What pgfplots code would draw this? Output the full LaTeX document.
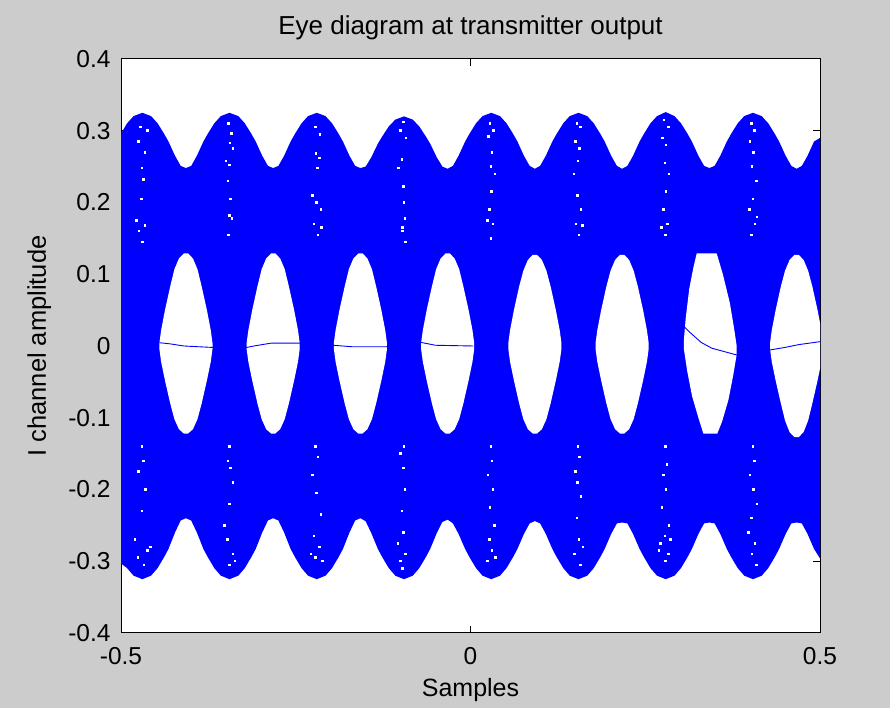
\documentclass[border=0pt]{standalone}
\usepackage{fontspec}
\setmainfont{Liberation Sans}
\usepackage{pgfplots}
\pgfplotsset{compat=1.18}
\definecolor{figgray}{RGB}{204,204,204}
\definecolor{mblue}{RGB}{0,0,255}
\begin{document}
\begin{tikzpicture}[x=1bp,y=1bp]
\fill[figgray] (0,0) rectangle (890,708);
\begin{axis}[
  at={(121bp,75bp)}, anchor=south west,
  scale only axis, width=699bp, height=574bp,
  xmin=-0.5, xmax=0.5, ymin=-0.4, ymax=0.4,
  axis background/.style={fill=white},
  xtick={-0.5,0,0.5}, xticklabels={-0.5,0,0.5},
  ytick={-0.4,-0.3,-0.2,-0.1,0,0.1,0.2,0.3,0.4},
  yticklabels={-0.4,-0.3,-0.2,-0.1,0,0.1,0.2,0.3,0.4},
  tick align=inside, major tick length=7bp,
  tick style={black, line width=1bp},
  axis line style={black, line width=1bp},
  ticklabel style={font=\fontsize{24.5bp}{29bp}\selectfont, text=black},
  xticklabel style={anchor=north, inner sep=0pt, yshift=-13.7bp},
  yticklabel style={anchor=east, inner sep=0pt, xshift=-10.3bp},
  title={Eye diagram at transmitter output},
  title style={font=\fontsize{26bp}{31bp}\selectfont, at={(axis description cs:0.5,1.0319)}, anchor=base},
  xlabel={Samples},
  xlabel style={font=\fontsize{25bp}{30bp}\selectfont, at={(axis description cs:0.5,-0.1110)}, anchor=base},
  ylabel={I channel amplitude},
  ylabel style={font=\fontsize{25.5bp}{30bp}\selectfont, at={(axis description cs:-0.1073,0.5)}, anchor=base, rotate=0},
]
% blue eye band (upper envelope left->right, lower envelope right->left)
\addplot[draw=none, fill=mblue] coordinates {
(-0.5,0.296)
(-0.4913,0.3104) (-0.482,0.3204) (-0.4695,0.325) (-0.457,0.3204) (-0.4477,0.3104) (-0.4383,0.2957) (-0.4321,0.285) (-0.4227,0.265) (-0.4146,0.251) (-0.4071,0.248)
(-0.3996,0.251) (-0.3915,0.265) (-0.3821,0.285) (-0.3759,0.2957) (-0.3665,0.3104) (-0.3572,0.3204) (-0.3447,0.325) (-0.3322,0.3204) (-0.3229,0.3104) (-0.3135,0.2957) (-0.3073,0.285) (-0.2979,0.265) (-0.2898,0.251) (-0.2823,0.248)
(-0.2748,0.251) (-0.2667,0.265) (-0.2573,0.285) (-0.2511,0.2957) (-0.2417,0.3104) (-0.2324,0.3204) (-0.2199,0.325) (-0.2074,0.3204) (-0.1981,0.3104) (-0.1887,0.2957) (-0.1825,0.285) (-0.1731,0.265) (-0.165,0.251) (-0.1575,0.248)
(-0.15,0.250) (-0.1419,0.263) (-0.1325,0.282) (-0.1263,0.292) (-0.1169,0.306) (-0.1076,0.3155) (-0.0951,0.320) (-0.0826,0.3155) (-0.0733,0.306) (-0.0639,0.292) (-0.0577,0.282) (-0.0483,0.263) (-0.0402,0.250) (-0.0327,0.247)
(-0.0252,0.251) (-0.0171,0.265) (-0.0077,0.285) (-0.0015,0.2957) (0.0079,0.3104) (0.0172,0.3204) (0.0297,0.325) (0.0422,0.3204) (0.0515,0.3104) (0.0609,0.2957) (0.0671,0.285) (0.0765,0.265) (0.0846,0.251) (0.0921,0.247)
(0.0996,0.251) (0.1077,0.265) (0.1171,0.285) (0.1233,0.2957) (0.1327,0.3104) (0.142,0.3204) (0.1545,0.325) (0.167,0.3204) (0.1763,0.3104) (0.1857,0.2957) (0.1919,0.285) (0.2013,0.265) (0.2094,0.251) (0.2169,0.247)
(0.2244,0.251) (0.2325,0.265) (0.2419,0.285) (0.2481,0.2957) (0.2575,0.3104) (0.2668,0.3204) (0.2793,0.326) (0.2918,0.3204) (0.3011,0.3104) (0.3105,0.2957) (0.3167,0.285) (0.3261,0.265) (0.3342,0.251) (0.3417,0.248)
(0.3492,0.251) (0.3573,0.265) (0.3667,0.285) (0.3729,0.2957) (0.3823,0.3104) (0.3916,0.3204) (0.4041,0.325) (0.4166,0.3204) (0.4259,0.3104) (0.4353,0.2957) (0.4415,0.285) (0.4509,0.265) (0.459,0.251) (0.4665,0.247)
(0.474,0.251) (0.4821,0.265) (0.4915,0.285) (0.5,0.29)
(0.5,-0.296) (0.4915,-0.2829) (0.4821,-0.2618) (0.474,-0.2472) (0.4665,-0.246)
(0.459,-0.2472) (0.4509,-0.2618) (0.4415,-0.2829) (0.4353,-0.2942) (0.4259,-0.3096) (0.4166,-0.3201) (0.4041,-0.325) (0.3916,-0.3201) (0.3823,-0.3096) (0.3729,-0.2942) (0.3667,-0.2829) (0.3573,-0.2618) (0.3492,-0.2472) (0.3417,-0.246)
(0.3342,-0.2472) (0.3261,-0.2618) (0.3167,-0.2829) (0.3105,-0.2942) (0.3011,-0.3096) (0.2918,-0.3201) (0.2793,-0.325) (0.2668,-0.3201) (0.2575,-0.3096) (0.2481,-0.2942) (0.2419,-0.2829) (0.2325,-0.2618) (0.2244,-0.2472) (0.2169,-0.246)
(0.2094,-0.2472) (0.2013,-0.2618) (0.1919,-0.2829) (0.1857,-0.2942) (0.1763,-0.3096) (0.167,-0.3201) (0.1545,-0.325) (0.142,-0.3201) (0.1327,-0.3096) (0.1233,-0.2942) (0.1171,-0.2829) (0.1077,-0.2618) (0.0996,-0.2472) (0.0921,-0.244)
(0.0846,-0.2472) (0.0765,-0.2618) (0.0671,-0.2829) (0.0609,-0.2942) (0.0515,-0.3096) (0.0422,-0.3201) (0.0297,-0.325) (0.0172,-0.3201) (0.0079,-0.3096) (-0.0015,-0.2942) (-0.0077,-0.2829) (-0.0171,-0.2618) (-0.0252,-0.2472) (-0.0327,-0.242)
(-0.0402,-0.2452) (-0.0483,-0.2608) (-0.0577,-0.2829) (-0.0639,-0.2942) (-0.0733,-0.3096) (-0.0826,-0.3201) (-0.0951,-0.325) (-0.1076,-0.3201) (-0.1169,-0.3096) (-0.1263,-0.2942) (-0.1325,-0.2829) (-0.1419,-0.2608) (-0.15,-0.2442) (-0.1575,-0.240)
(-0.165,-0.2432) (-0.1731,-0.2598) (-0.1825,-0.2829) (-0.1887,-0.2942) (-0.1981,-0.3096) (-0.2074,-0.3201) (-0.2199,-0.325) (-0.2324,-0.3201) (-0.2417,-0.3096) (-0.2511,-0.2942) (-0.2573,-0.2829) (-0.2667,-0.2598) (-0.2748,-0.2432) (-0.2823,-0.240)
(-0.2898,-0.2432) (-0.2979,-0.2598) (-0.3073,-0.2829) (-0.3135,-0.2942) (-0.3229,-0.3096) (-0.3322,-0.3201) (-0.3447,-0.325) (-0.3572,-0.3201) (-0.3665,-0.3096) (-0.3759,-0.2942) (-0.3821,-0.2829) (-0.3915,-0.2598) (-0.3996,-0.2432) (-0.4071,-0.240)
(-0.4146,-0.2432) (-0.4227,-0.2598) (-0.4321,-0.2829) (-0.4383,-0.2942) (-0.4477,-0.3096) (-0.457,-0.3201) (-0.4695,-0.325) (-0.482,-0.3201) (-0.4913,-0.3096) (-0.5,-0.303)
} -- cycle;
% eye openings
\addplot[draw=none, fill=white] coordinates {
(-0.4101,0.129) (-0.4041,0.129) (-0.3971,0.122) (-0.3906,0.107) (-0.3846,0.083) (-0.3771,0.050) (-0.3716,0.022) (-0.3691,0.004) (-0.3691,-0.004) (-0.3716,-0.022) (-0.3771,-0.048) (-0.3846,-0.080) (-0.3906,-0.102) (-0.3971,-0.116) (-0.4041,-0.122)
(-0.4101,-0.122) (-0.4171,-0.116) (-0.4236,-0.102) (-0.4296,-0.080) (-0.4371,-0.048) (-0.4426,-0.022) (-0.4451,-0.004) (-0.4451,0.004) (-0.4426,0.022) (-0.4371,0.050) (-0.4296,0.083) (-0.4236,0.107) (-0.4171,0.122)
} -- cycle;
\addplot[draw=none, fill=white] coordinates {
(-0.2853,0.129) (-0.2793,0.129) (-0.2723,0.122) (-0.2658,0.107) (-0.2598,0.083) (-0.2523,0.050) (-0.2468,0.022) (-0.2443,0.004) (-0.2443,-0.004) (-0.2468,-0.022) (-0.2523,-0.048) (-0.2598,-0.080) (-0.2658,-0.102) (-0.2723,-0.116) (-0.2793,-0.122)
(-0.2853,-0.122) (-0.2923,-0.116) (-0.2988,-0.102) (-0.3048,-0.080) (-0.3123,-0.048) (-0.3178,-0.022) (-0.3203,-0.004) (-0.3203,0.004) (-0.3178,0.022) (-0.3123,0.050) (-0.3048,0.083) (-0.2988,0.107) (-0.2923,0.122)
} -- cycle;
\addplot[draw=none, fill=white] coordinates {
(-0.1605,0.129) (-0.1545,0.129) (-0.1475,0.122) (-0.1410,0.107) (-0.1350,0.083) (-0.1275,0.050) (-0.1220,0.022) (-0.1195,0.004) (-0.1195,-0.004) (-0.1220,-0.022) (-0.1275,-0.048) (-0.1350,-0.080) (-0.1410,-0.102) (-0.1475,-0.116) (-0.1545,-0.122)
(-0.1605,-0.122) (-0.1675,-0.116) (-0.1740,-0.102) (-0.1800,-0.080) (-0.1875,-0.048) (-0.1930,-0.022) (-0.1955,-0.004) (-0.1955,0.004) (-0.1930,0.022) (-0.1875,0.050) (-0.1800,0.083) (-0.1740,0.107) (-0.1675,0.122)
} -- cycle;
\addplot[draw=none, fill=white] coordinates {
(-0.0357,0.129) (-0.0297,0.129) (-0.0227,0.122) (-0.0162,0.107) (-0.0102,0.083) (-0.0027,0.050) (0.0028,0.022) (0.0053,0.004) (0.0053,-0.004) (0.0028,-0.022) (-0.0027,-0.048) (-0.0102,-0.080) (-0.0162,-0.102) (-0.0227,-0.116) (-0.0297,-0.122)
(-0.0357,-0.122) (-0.0427,-0.116) (-0.0492,-0.102) (-0.0552,-0.080) (-0.0627,-0.048) (-0.0682,-0.022) (-0.0707,-0.004) (-0.0707,0.004) (-0.0682,0.022) (-0.0627,0.050) (-0.0552,0.083) (-0.0492,0.107) (-0.0427,0.122)
} -- cycle;
\addplot[draw=none, fill=white] coordinates {
(0.0891,0.127) (0.0951,0.127) (0.1021,0.120) (0.1086,0.105) (0.1146,0.083) (0.1221,0.050) (0.1276,0.022) (0.1301,0.004) (0.1301,-0.004) (0.1276,-0.022) (0.1221,-0.048) (0.1146,-0.080) (0.1086,-0.102) (0.1021,-0.116) (0.0951,-0.122)
(0.0891,-0.122) (0.0821,-0.116) (0.0756,-0.102) (0.0696,-0.080) (0.0621,-0.048) (0.0566,-0.022) (0.0541,-0.004) (0.0541,0.004) (0.0566,0.022) (0.0621,0.050) (0.0696,0.083) (0.0756,0.105) (0.0821,0.120)
} -- cycle;
\addplot[draw=none, fill=white] coordinates {
(0.2139,0.127) (0.2199,0.127) (0.2269,0.120) (0.2334,0.105) (0.2394,0.083) (0.2469,0.050) (0.2524,0.022) (0.2549,0.004) (0.2549,-0.004) (0.2524,-0.022) (0.2469,-0.048) (0.2394,-0.080) (0.2334,-0.102) (0.2269,-0.116) (0.2199,-0.122)
(0.2139,-0.122) (0.2069,-0.116) (0.2004,-0.102) (0.1944,-0.080) (0.1869,-0.048) (0.1814,-0.022) (0.1789,-0.004) (0.1789,0.004) (0.1814,0.022) (0.1869,0.050) (0.1944,0.083) (0.2004,0.105) (0.2069,0.120)
} -- cycle;
\addplot[draw=none, fill=white] coordinates {
(0.3236,0.129) (0.3522,0.129) (0.361,0.100) (0.371,0.060) (0.377,0.025) (0.3808,0.000) (0.3808,-0.012) (0.376,-0.040) (0.369,-0.075) (0.360,-0.105) (0.3531,-0.122)
(0.3331,-0.122) (0.326,-0.100) (0.317,-0.070) (0.310,-0.035) (0.3054,-0.005) (0.3054,0.010) (0.308,0.040) (0.313,0.080) (0.319,0.110)
} -- cycle;
\addplot[draw=none, fill=white] coordinates {
(0.4635,0.127) (0.4695,0.127) (0.4765,0.120) (0.4830,0.105) (0.4890,0.083) (0.4965,0.050) (0.5020,0.022) (0.5045,0.004) (0.5045,-0.004) (0.5020,-0.022) (0.4965,-0.048) (0.4890,-0.080) (0.4830,-0.104) (0.4765,-0.120) (0.4695,-0.127)
(0.4635,-0.127) (0.4565,-0.120) (0.4500,-0.104) (0.4440,-0.080) (0.4365,-0.048) (0.4310,-0.022) (0.4285,-0.004) (0.4285,0.004) (0.4310,0.022) (0.4365,0.050) (0.4440,0.083) (0.4500,0.105) (0.4565,0.120)
} -- cycle;
% single traces crossing the eyes
\addplot[mblue, line width=0.9bp] coordinates {
(-0.4452,0.0046) (-0.43,0.003) (-0.41,0.0) (-0.39,-0.001) (-0.369,-0.002) (-0.32,-0.002) (-0.31,0.0) (-0.285,0.004) (-0.244,0.004) (-0.196,0.001) (-0.17,-0.001) (-0.12,-0.001) (-0.071,0.005) (-0.05,0.001) (0.004,0.0)
};
\addplot[mblue, line width=0.9bp] coordinates {
(0.3054,0.027) (0.315,0.018) (0.33,0.005) (0.345,-0.003) (0.36,-0.007) (0.375,-0.011) (0.3808,-0.0125) (0.428,-0.0056) (0.45,-0.002) (0.47,0.002) (0.5,0.006)
};
% white gaps inside the band
\addplot[only marks, mark=square*, mark size=0.75bp, mark options={draw=white, fill=white, line width=0pt}] coordinates {
(-0.472,0.305) (-0.462,0.30) (-0.475,0.285) (-0.466,0.27) (-0.470,0.248) (-0.468,0.232) (-0.471,0.205) (-0.478,0.175) (-0.466,0.168) (-0.469,0.145) (-0.474,0.16)
(-0.47,-0.14) (-0.468,-0.16) (-0.475,-0.175) (-0.465,-0.2) (-0.47,-0.23) (-0.48,-0.27) (-0.462,-0.285) (-0.476,-0.295) (-0.467,-0.305) (-0.458,-0.28)
(-0.346,0.31) (-0.342,0.296) (-0.344,0.283) (-0.340,0.275) (-0.345,0.252) (-0.347,0.23) (-0.343,0.205) (-0.345,0.182) (-0.341,0.178) (-0.346,0.155) (-0.35,0.258)
(-0.345,-0.14) (-0.347,-0.16) (-0.343,-0.17) (-0.34,-0.19) (-0.345,-0.22) (-0.352,-0.25) (-0.348,-0.27) (-0.34,-0.29) (-0.345,-0.305) (-0.337,-0.3)
(-0.222,0.305) (-0.215,0.295) (-0.221,0.268) (-0.216,0.262) (-0.219,0.248) (-0.226,0.21) (-0.22,0.2) (-0.214,0.19) (-0.224,0.17) (-0.218,0.155) (-0.213,0.165)
(-0.222,-0.14) (-0.218,-0.155) (-0.226,-0.18) (-0.22,-0.205) (-0.214,-0.235) (-0.224,-0.265) (-0.216,-0.28) (-0.222,-0.295) (-0.212,-0.3) (-0.228,-0.29)
(-0.096,0.312) (-0.1,0.3) (-0.092,0.29) (-0.098,0.26) (-0.103,0.248) (-0.096,0.222) (-0.095,0.2) (-0.094,0.178) (-0.097,0.165) (-0.093,0.145) (-0.097,0.16)
(-0.095,-0.14) (-0.1,-0.15) (-0.096,-0.17) (-0.094,-0.2) (-0.098,-0.23) (-0.096,-0.26) (-0.093,-0.29) (-0.1,-0.3) (-0.097,-0.31) (-0.104,-0.275)
(0.028,0.31) (0.033,0.3) (0.026,0.292) (0.031,0.27) (0.029,0.25) (0.035,0.24) (0.03,0.215) (0.027,0.19) (0.032,0.17) (0.029,0.15) (0.024,0.175)
(0.029,-0.14) (0.031,-0.16) (0.025,-0.18) (0.032,-0.2) (0.028,-0.225) (0.034,-0.25) (0.027,-0.27) (0.031,-0.285) (0.036,-0.295) (0.024,-0.3)
(0.152,0.31) (0.157,0.305) (0.15,0.285) (0.156,0.275) (0.154,0.258) (0.148,0.24) (0.153,0.21) (0.158,0.19) (0.151,0.17) (0.155,0.155) (0.16,0.168)
(0.154,-0.14) (0.156,-0.155) (0.15,-0.175) (0.153,-0.19) (0.158,-0.21) (0.152,-0.24) (0.155,-0.27) (0.149,-0.29) (0.157,-0.305) (0.161,-0.28)
(0.277,0.315) (0.283,0.305) (0.275,0.29) (0.28,0.28) (0.278,0.255) (0.284,0.24) (0.28,0.215) (0.276,0.19) (0.282,0.17) (0.279,0.155) (0.273,0.165)
(0.279,-0.14) (0.281,-0.165) (0.276,-0.18) (0.28,-0.2) (0.274,-0.225) (0.284,-0.25) (0.278,-0.265) (0.272,-0.275) (0.283,-0.29) (0.279,-0.3) (0.286,-0.27) (0.27,-0.285)
(0.402,0.31) (0.406,0.3) (0.4,0.285) (0.405,0.27) (0.403,0.25) (0.409,0.23) (0.404,0.205) (0.399,0.19) (0.407,0.17) (0.402,0.155) (0.41,0.18)
(0.404,-0.14) (0.406,-0.16) (0.4,-0.18) (0.405,-0.2) (0.41,-0.22) (0.402,-0.24) (0.398,-0.26) (0.407,-0.275) (0.403,-0.29) (0.409,-0.305)
};
\end{axis}
\end{tikzpicture}
\end{document}
